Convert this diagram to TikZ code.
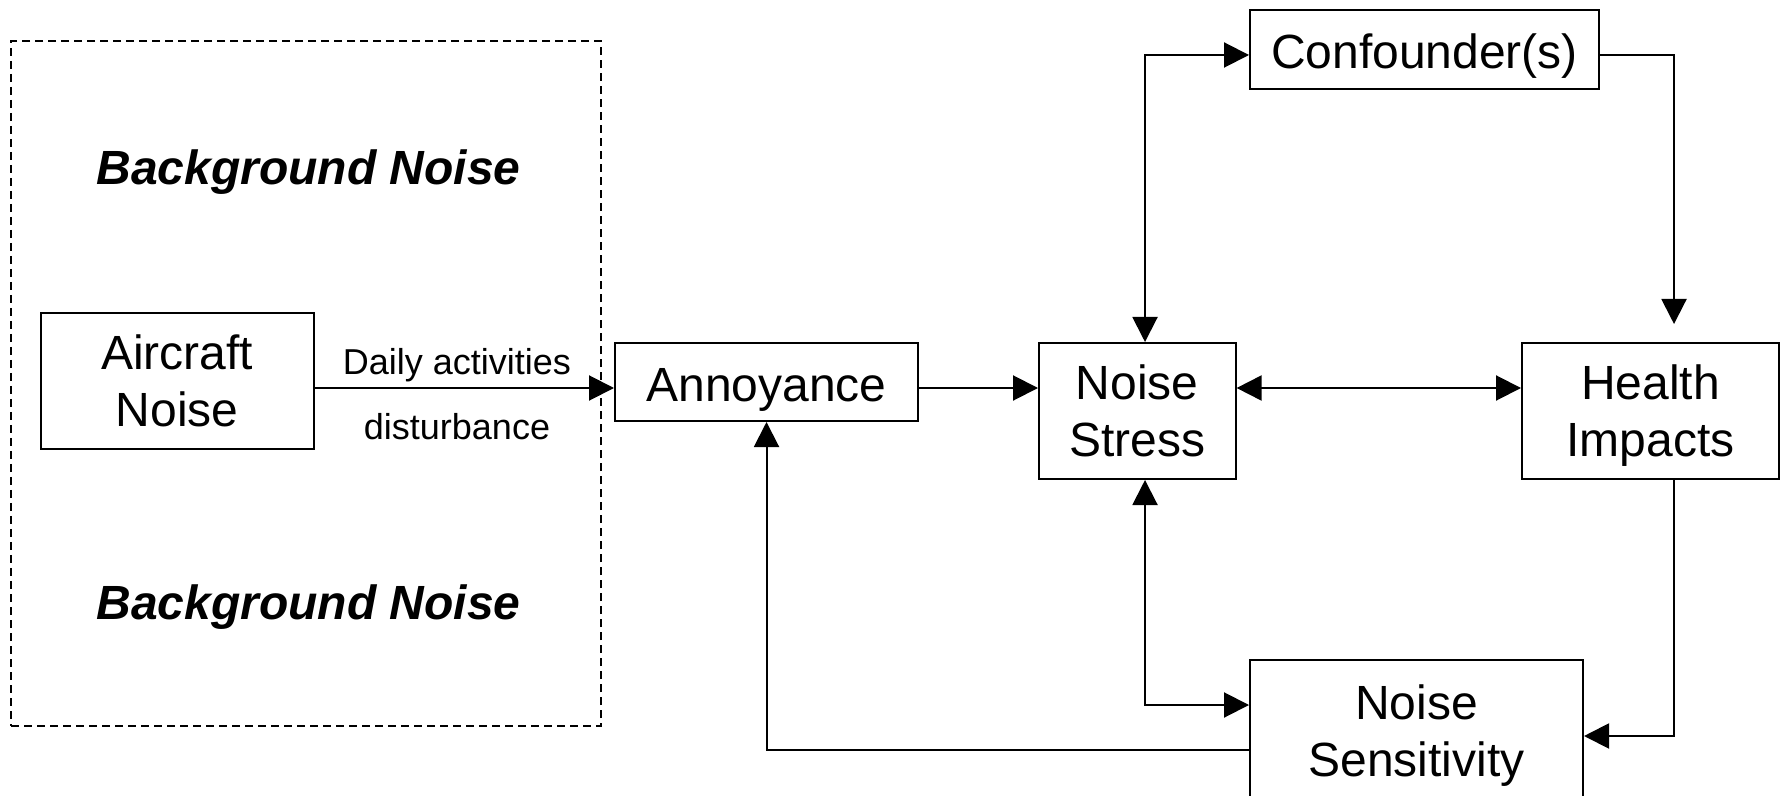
\documentclass[tikz,border=0pt]{standalone}
\usepackage{fontspec}
\setmainfont{Liberation Sans}
\usetikzlibrary{arrows.meta}
\begin{document}
\begin{tikzpicture}[x=0.5pt,y=-0.5pt,
  box/.style={draw,line width=1pt,inner sep=0pt,align=center,font=\fontsize{24}{28.5}\selectfont},
  onel/.style={text height=19pt,text depth=0pt},
  lbl/.style={inner sep=0pt,anchor=base,font=\fontsize{18}{21}\selectfont},
  bgl/.style={inner sep=0pt,anchor=base,font=\fontsize{24}{28}\selectfont\bfseries\itshape},
  conn/.style={line width=1pt,-{Triangle[length=12.5pt,width=12.5pt]}},
  dconn/.style={line width=1pt,{Triangle[length=12.5pt,width=12.5pt]}-{Triangle[length=12.5pt,width=12.5pt]}}
]
\useasboundingbox (0,0) rectangle (1781,796);
\clip (0,0) rectangle (1781,796);
% dashed background area
\node[draw,dashed,line width=0.8pt,dash pattern=on 4pt off 2.5pt,inner sep=0pt,minimum width=295pt,minimum height=342.5pt] (bg) at (306,383.5) {};
\node[bgl] (bgtop) at (308.5,185) {Background Noise};
\node[bgl] (bgbot) at (308.5,619) {Background Noise};
% boxes
\node[box,minimum width=136.3pt,minimum height=68pt] (air) at (177.3,381) {Aircraft\\Noise};
\node[box,onel,minimum width=151.5pt,minimum height=39pt] (ann) at (766.5,382) {Annoyance};
\node[box,minimum width=98.3pt,minimum height=68pt] (ns) at (1137.3,411) {Noise\\Stress};
\node[box,minimum width=128.5pt,minimum height=68pt] (hi) at (1650.5,411) {Health\\\smash{Impacts}};
\node[box,onel,minimum width=174.5pt,minimum height=39.5pt] (conf) at (1424.5,49.5) {Confounder(s)};
\node[box,minimum width=166.5pt,minimum height=71pt] (nsens) at (1416.5,731) {Noise\\\smash{Sensitivity}};
% labels
\node[lbl] (l1) at (457,374) {Daily activities};
\node[lbl] (l2) at (457,439) {disturbance};
% helper coordinates
\coordinate (row) at (0,388);
\coordinate (ytop) at (0,55);
\coordinate (yR) at (0,736);
\coordinate (yL1) at (0,705);
\coordinate (yL2) at (0,750);
\coordinate (colS) at (1145,0);
\coordinate (colH) at (1674,0);
% connectors
\draw[conn] (air.east |- row) -- (ann.west |- row);
\draw[conn] (ann.east |- row) -- (ns.west |- row);
\draw[dconn] (ns.east |- row) -- (hi.west |- row);
\draw[dconn] (conf.west |- ytop) -| (colS |- ns.north);
\draw[conn,shorten >=9pt] (conf.east |- ytop) -| (colH |- hi.north);
\draw[conn] (colH |- hi.south) |- (nsens.east |- yR);
\draw[dconn] (colS |- ns.south) |- (nsens.west |- yL1);
\draw[conn] (nsens.west |- yL2) -| (ann.south);
\end{tikzpicture}
\end{document}
